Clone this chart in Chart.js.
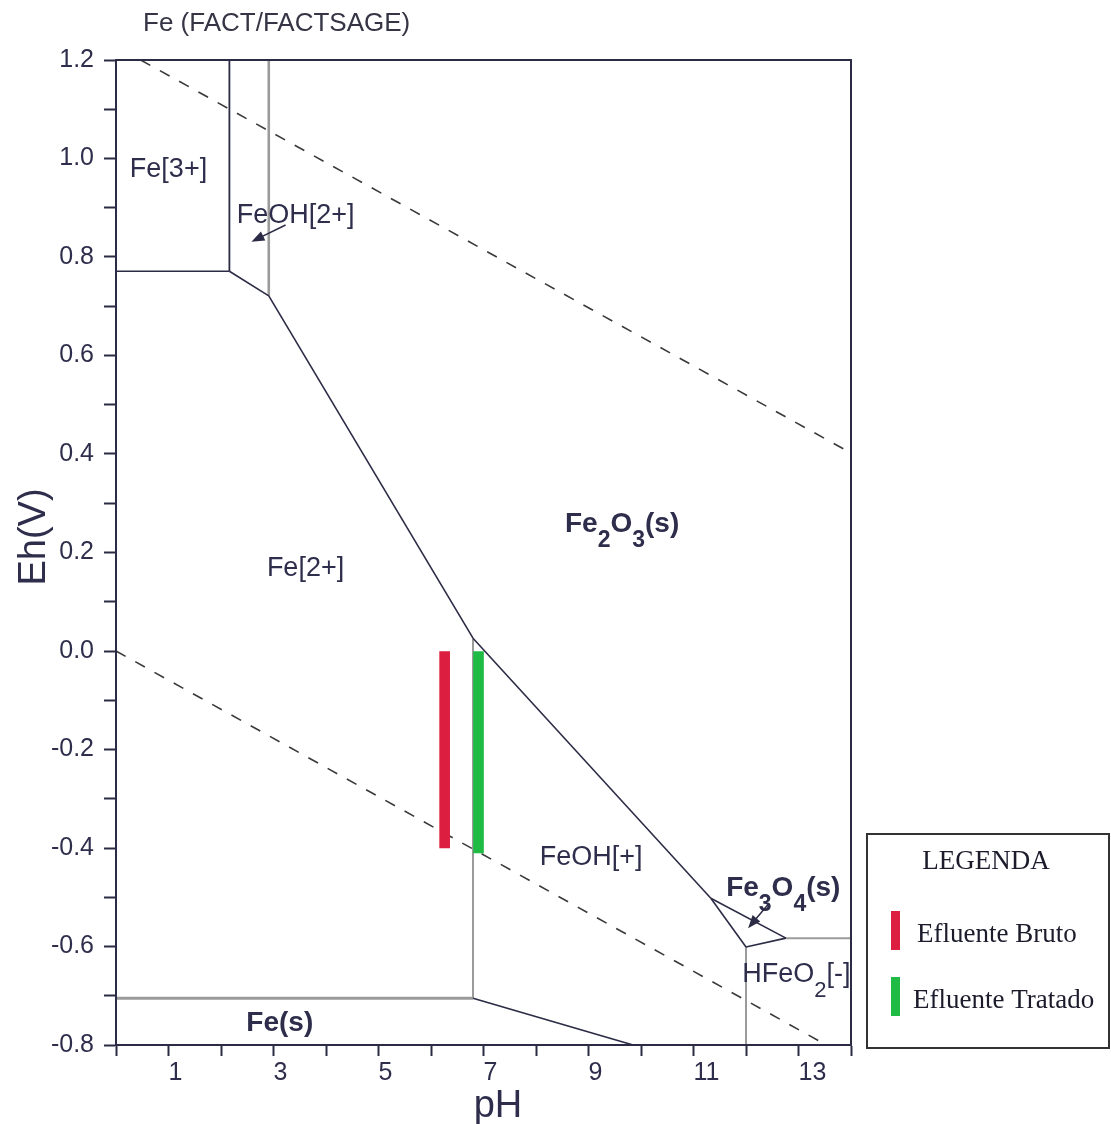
<!DOCTYPE html>
<html>
<head>
<meta charset="utf-8">
<title>Fe Eh-pH</title>
<script src="https://cdn.jsdelivr.net/npm/chart.js@4/dist/chart.umd.min.js"></script>
<style>
  html, body { margin: 0; padding: 0; background: #ffffff; }
  #wrap { position: relative; width: 1111px; height: 1124px; }
</style>
</head>
<body>
<div id="wrap"><canvas id="c" width="1111" height="1124"></canvas></div>
<script>
// ---- Axis ranges and tick steps ----
const phRange = [0, 14];
const ehRange = [-0.8, 1.2];
const phStep = 1;
const ehStep = 0.1;

// ---- Water stability limits (dashed), [pH, Eh] ----
const o2Limit = [[0.47, 1.2], [14, 0.402]];
const h2Limit = [[0, 0], [13.53, -0.8]];

// ---- Predominance boundaries, [pH, Eh] ----
const fe3Fe2      = [[0, 0.771], [2.16, 0.771]];
const fe3FeOH2    = [[2.16, 1.2], [2.16, 0.771]];
const feOH2Fe2    = [[2.16, 0.771], [2.91, 0.721]];
const fe2o3Fe2    = [[2.91, 0.721], [6.80, 0.026]];
const fe2o3FeOH   = [[6.80, 0.026], [11.33, -0.502]];
const fe2o3Fe3o4  = [[11.33, -0.502], [12.76, -0.583]];
const fe3o4FeOH   = [[11.33, -0.502], [12.0, -0.601]];
const fe3o4HFeO2  = [[12.0, -0.601], [12.76, -0.583]];
const feFeOH      = [[6.80, -0.705], [9.85, -0.8]];
const feOH2Fe2o3  = [[2.91, 1.2], [2.91, 0.721]];
const fe2FeOH     = [[6.80, 0.026], [6.80, -0.705]];
const feFe2       = [[0, -0.705], [6.80, -0.705]];
const fe2o3HFeO2  = [[12.76, -0.583], [14, -0.583]];
const feOHHFeO2   = [[12.0, -0.601], [12.0, -0.8]];

// ---- Measured effluent ranges ----
const sampleNames = ['Efluente Bruto', 'Efluente Tratado'];
const samplePH    = [6.26, 6.905];
const sampleEhLow = [-0.40, -0.41];
const sampleEhHigh = [0.0, 0.0];

// ---- Species names (underscore marks a subscript digit) ----
const speciesNames = ['Fe[3+]', 'FeOH[2+]', 'Fe[2+]', 'Fe_2O_3(s)', 'FeOH[+]', 'Fe_3O_4(s)', 'HFeO_2[-]', 'Fe(s)'];
const speciesSolid = [false, false, false, true, false, true, false, true];
// label anchors (centre pH, baseline Eh)
const speciesAnchorPH = [1.00, 3.42, 3.61, 9.64, 9.05, 12.71, 12.96, 3.12];
const speciesAnchorEh = [0.962, 0.869, 0.152, 0.242, -0.435, -0.497, -0.672, -0.772];
// pointer arrows for the narrow fields, [tail, head]
const feOH2Pointer = [[3.23, 0.865], [2.58, 0.831]];
const fe3o4Pointer = [[12.44, -0.512], [12.04, -0.563]];

const chartTitle = 'Fe (FACT/FACTSAGE)';
const xTitle = 'pH';
const yTitle = 'Eh(V)';
const legendTitle = 'LEGENDA';

// ---- Styles ----
const INK = '#2b2b45';
const GREY = '#9b9b9b';
const TEXT = '#2e2e4c';
const SANS = '"Liberation Sans", Arial, sans-serif';
const SERIF = '"Liberation Serif", "Times New Roman", serif';
const sampleColors = ['#dc1f40', '#20bb45'];

function segment(points, color, width, dash) {
  return {
    type: 'line',
    data: points.map(([x, y]) => ({ x, y })),
    borderColor: color,
    borderWidth: width,
    borderDash: dash || [],
    borderCapStyle: 'butt',
    pointRadius: 0,
    pointHoverRadius: 0,
    fill: false,
    tension: 0,
    order: 2
  };
}

const datasets = [
  segment(o2Limit, '#3a3a3a', 1.6, [11, 11]),
  segment(h2Limit, '#3a3a3a', 1.6, [11, 11]),
  segment(fe3Fe2, INK, 1.6),
  segment(fe3FeOH2, INK, 1.8),
  segment(feOH2Fe2, INK, 1.6),
  segment(fe2o3Fe2, INK, 1.6),
  segment(fe2o3FeOH, INK, 1.6),
  segment(fe2o3Fe3o4, INK, 1.6),
  segment(fe3o4FeOH, INK, 1.6),
  segment(fe3o4HFeO2, INK, 1.6),
  segment(feFeOH, INK, 1.6),
  segment(feOH2Fe2o3, GREY, 2.6),
  segment(fe2FeOH, GREY, 2),
  segment(feFe2, GREY, 3),
  segment(fe2o3HFeO2, GREY, 2),
  segment(feOHHFeO2, GREY, 2)
];

sampleNames.forEach((name, i) => {
  datasets.push({
    type: 'bar',
    label: name,
    data: [{ x: samplePH[i], y: [sampleEhLow[i], sampleEhHigh[i]] }],
    backgroundColor: sampleColors[i],
    borderWidth: 0,
    barThickness: 10,
    grouped: false,
    order: 0
  });
});

// Rich text with lowered subscript digits, centred on cx, baseline cy
function drawSpecies(ctx, text, cx, cy, bold) {
  const size = bold ? 28 : 27;
  const subSize = bold ? 23 : 22;
  const weight = bold ? 'bold ' : '';
  const parts = [];
  text.split(/(_\d)/).forEach(p => {
    if (!p) return;
    if (p[0] === '_') parts.push({ s: p.slice(1), sub: true });
    else parts.push({ s: p, sub: false });
  });
  let total = 0;
  parts.forEach(p => {
    ctx.font = weight + (p.sub ? subSize : size) + 'px ' + SANS;
    p.w = ctx.measureText(p.s).width;
    total += p.w;
  });
  let x = cx - total / 2;
  ctx.textAlign = 'left';
  ctx.textBaseline = 'alphabetic';
  parts.forEach(p => {
    ctx.font = weight + (p.sub ? subSize : size) + 'px ' + SANS;
    ctx.fillText(p.s, x, p.sub ? cy + 15 : cy);
    x += p.w;
  });
}

function drawPointer(ctx, xs, ys, pts) {
  const x1 = xs.getPixelForValue(pts[0][0]), y1 = ys.getPixelForValue(pts[0][1]);
  const x2 = xs.getPixelForValue(pts[1][0]), y2 = ys.getPixelForValue(pts[1][1]);
  const a = Math.atan2(y2 - y1, x2 - x1);
  const len = 13, half = 5;
  ctx.strokeStyle = INK;
  ctx.fillStyle = INK;
  ctx.lineWidth = 1.5;
  ctx.beginPath();
  ctx.moveTo(x1, y1);
  ctx.lineTo(x2 - Math.cos(a) * len * 0.8, y2 - Math.sin(a) * len * 0.8);
  ctx.stroke();
  ctx.beginPath();
  ctx.moveTo(x2, y2);
  ctx.lineTo(x2 - Math.cos(a) * len - Math.sin(a) * half, y2 - Math.sin(a) * len + Math.cos(a) * half);
  ctx.lineTo(x2 - Math.cos(a) * len + Math.sin(a) * half, y2 - Math.sin(a) * len - Math.cos(a) * half);
  ctx.closePath();
  ctx.fill();
}

const diagramDecor = {
  id: 'diagramDecor',
  afterDatasetsDraw(chart) {
    const { ctx, chartArea: ca, scales } = chart;
    const xs = scales.x, ys = scales.y;
    ctx.save();

    // plot frame
    ctx.strokeStyle = INK;
    ctx.lineWidth = 2;
    ctx.strokeRect(ca.left, ca.top, ca.right - ca.left, ca.bottom - ca.top);

    // species labels
    ctx.fillStyle = TEXT;
    speciesNames.forEach((name, i) => {
      drawSpecies(ctx, name, xs.getPixelForValue(speciesAnchorPH[i]),
        ys.getPixelForValue(speciesAnchorEh[i]), speciesSolid[i]);
    });
    drawPointer(ctx, xs, ys, feOH2Pointer);
    drawPointer(ctx, xs, ys, fe3o4Pointer);

    // title
    ctx.fillStyle = '#353545';
    ctx.font = '26px ' + SANS;
    ctx.textAlign = 'left';
    ctx.textBaseline = 'alphabetic';
    ctx.fillText(chartTitle, 143, 31);

    // axis titles
    ctx.fillStyle = TEXT;
    ctx.font = '38px ' + SANS;
    ctx.textAlign = 'center';
    ctx.fillText(xTitle, 498, 1117);
    ctx.save();
    ctx.translate(45, 537);
    ctx.rotate(-Math.PI / 2);
    ctx.fillText(yTitle, 0, 0);
    ctx.restore();

    // legend box
    ctx.strokeStyle = '#333333';
    ctx.lineWidth = 2;
    ctx.strokeRect(867, 834, 242, 214);
    ctx.fillStyle = '#1b1b2b';
    ctx.font = '27px ' + SERIF;
    ctx.textAlign = 'center';
    ctx.fillText(legendTitle, 986, 869);
    const bars = chart.data.datasets.filter(d => d.type === 'bar');
    const rowTop = [911, 977];
    const textLeft = [917, 913];
    bars.forEach((d, i) => {
      ctx.fillStyle = d.backgroundColor;
      ctx.fillRect(891, rowTop[i], 9, 39);
      ctx.fillStyle = '#1b1b2b';
      ctx.textAlign = 'left';
      ctx.fillText(d.label, textLeft[i], rowTop[i] + 31);
    });

    ctx.restore();
  }
};

new Chart(document.getElementById('c'), {
  type: 'scatter',
  data: { datasets },
  options: {
    responsive: false,
    animation: false,
    events: [],
    layout: { padding: { top: 60, right: 260, left: 0, bottom: 0 } },
    plugins: {
      legend: { display: false },
      tooltip: { enabled: false },
      title: { display: false }
    },
    scales: {
      x: {
        type: 'linear',
        min: phRange[0],
        max: phRange[1],
        offset: false,
        afterFit(scale) { scale.height = 79; },
        border: { display: true, color: INK, width: 2 },
        grid: { display: true, offset: false, drawOnChartArea: false, drawTicks: true, tickLength: 11, tickColor: INK, tickWidth: 2 },
        ticks: {
          stepSize: phStep,
          autoSkip: false,
          maxRotation: 0,
          align: 'start',
          padding: 2,
          color: TEXT,
          font: { family: SANS, size: 25 },
          callback: v => (Math.round(v) % 2 === 1 ? String(Math.round(v)) : '')
        }
      },
      y: {
        type: 'linear',
        min: ehRange[0],
        max: ehRange[1],
        afterFit(scale) { scale.width = 116; },
        border: { display: true, color: INK, width: 2 },
        grid: { display: true, offset: false, drawOnChartArea: false, drawTicks: true, tickLength: 12, tickColor: INK, tickWidth: 2 },
        ticks: {
          stepSize: ehStep,
          autoSkip: false,
          padding: 10,
          color: TEXT,
          font: { family: SANS, size: 25 },
          callback: v => {
            const r = Math.round(v * 10);
            return r % 2 === 0 ? (r / 10).toFixed(1) : '';
          }
        }
      }
    }
  },
  plugins: [diagramDecor]
});
</script>
</body>
</html>
